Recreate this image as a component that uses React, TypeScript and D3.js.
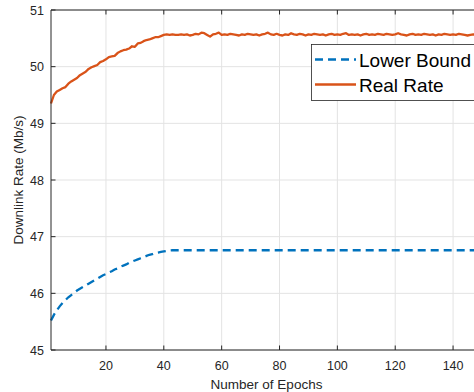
import React, { useMemo } from "react";
import * as d3 from "d3";

const epochs: number[] = d3.range(1, 151);

const lowerBound: number[] = [
    45.52, 45.62, 45.7, 45.77, 45.83, 45.88, 45.93, 45.97, 46.01, 46.05,
    46.08, 46.11, 46.14, 46.17, 46.2, 46.23, 46.26, 46.29, 46.32, 46.34,
    46.37, 46.39, 46.42, 46.44, 46.47, 46.49, 46.51, 46.54, 46.56, 46.58,
    46.6, 46.62, 46.64, 46.66, 46.68, 46.69, 46.71, 46.72, 46.73, 46.74,
    46.75, 46.755, 46.76, 46.76, 46.76, 46.76, 46.76, 46.76, 46.76, 46.76,
    46.76, 46.76, 46.76, 46.76, 46.76, 46.76, 46.76, 46.76, 46.76, 46.76,
    46.76, 46.76, 46.76, 46.76, 46.76, 46.76, 46.76, 46.76, 46.76, 46.76,
    46.76, 46.76, 46.76, 46.76, 46.76, 46.76, 46.76, 46.76, 46.76, 46.76,
    46.76, 46.76, 46.76, 46.76, 46.76, 46.76, 46.76, 46.76, 46.76, 46.76,
    46.76, 46.76, 46.76, 46.76, 46.76, 46.76, 46.76, 46.76, 46.76, 46.76,
    46.76, 46.76, 46.76, 46.76, 46.76, 46.76, 46.76, 46.76, 46.76, 46.76,
    46.76, 46.76, 46.76, 46.76, 46.76, 46.76, 46.76, 46.76, 46.76, 46.76,
    46.76, 46.76, 46.76, 46.76, 46.76, 46.76, 46.76, 46.76, 46.76, 46.76,
    46.76, 46.76, 46.76, 46.76, 46.76, 46.76, 46.76, 46.76, 46.76, 46.76,
    46.76, 46.76, 46.76, 46.76, 46.76, 46.76, 46.76, 46.76, 46.76, 46.76,
];

const realRate: number[] = [
    49.35, 49.5, 49.56, 49.59, 49.62, 49.64, 49.7, 49.74, 49.77, 49.8,
    49.85, 49.88, 49.91, 49.96, 49.99, 50.01, 50.03, 50.08, 50.1, 50.13,
    50.17, 50.18, 50.19, 50.24, 50.27, 50.29, 50.3, 50.32, 50.36, 50.35,
    50.41, 50.42, 50.45, 50.47, 50.48, 50.5, 50.52, 50.52, 50.54, 50.56,
    50.57, 50.56, 50.57, 50.56, 50.56, 50.57, 50.56, 50.57, 50.55, 50.56,
    50.58, 50.57, 50.6, 50.59, 50.56, 50.53, 50.57, 50.58, 50.6, 50.56,
    50.57, 50.56, 50.58, 50.57, 50.56, 50.55, 50.57, 50.56, 50.58, 50.57,
    50.56, 50.57, 50.55, 50.57, 50.58, 50.6, 50.57, 50.56, 50.58, 50.56,
    50.55, 50.57, 50.56, 50.59, 50.57, 50.56, 50.58, 50.57, 50.55, 50.57,
    50.56, 50.58, 50.57, 50.56, 50.57, 50.55, 50.57, 50.58, 50.56, 50.57,
    50.56, 50.58, 50.59, 50.56, 50.57, 50.56, 50.57, 50.55, 50.57, 50.58,
    50.56, 50.57, 50.56, 50.58, 50.57, 50.56, 50.58, 50.57, 50.56, 50.57,
    50.59, 50.57, 50.56, 50.55, 50.57, 50.58, 50.56, 50.57, 50.56, 50.58,
    50.57, 50.56, 50.57, 50.55, 50.57, 50.56, 50.58, 50.57, 50.56, 50.57,
    50.56, 50.58, 50.57, 50.56, 50.55, 50.56, 50.57, 50.56, 50.55, 50.54,
];

const xTicks: number[] = [20, 40, 60, 80, 100, 120, 140];
const yTicks: number[] = [45, 46, 47, 48, 49, 50, 51];
const seriesNames: string[] = ["Lower Bound", "Real Rate"];

const blue = "#0072BD";
const orange = "#D95319";
const axisColor = "#262626";
const gridColor = "#e3e3e3";
const font = "'Liberation Sans', Arial, Helvetica, sans-serif";

export default function App() {
    const width = 474;
    const height = 392;
    const marginLeft = 51;
    const plotRight = 482;
    const marginTop = 10;
    const plotBottom = 350;

    const x = useMemo(
        () => d3.scaleLinear([1, 150], [marginLeft, plotRight]),
        []
    );
    const y = useMemo(
        () => d3.scaleLinear([45, 51], [plotBottom, marginTop]),
        []
    );

    const line = d3
        .line<number>()
        .x((_, i) => x(epochs[i]))
        .y((d) => y(d));

    const tickLen = 4.5;

    return (
        <svg
            width={width}
            height={height}
            style={{ position: "absolute", top: 0, left: 0, background: "#fff" }}
            fontFamily={font}
        >
            <rect x={0} y={0} width={width} height={height} fill="#fff" />
            {/* grid */}
            <g stroke={gridColor} strokeWidth={1}>
                {xTicks.map((t) => (
                    <line key={`gx${t}`} x1={x(t)} x2={x(t)} y1={marginTop} y2={plotBottom} />
                ))}
                {yTicks.map((t) => (
                    <line key={`gy${t}`} x1={marginLeft} x2={plotRight} y1={y(t)} y2={y(t)} />
                ))}
            </g>
            {/* series */}
            <path
                d={line(lowerBound) || ""}
                fill="none"
                stroke={blue}
                strokeWidth={2.3}
                strokeDasharray="8,5"
            />
            <path
                d={line(realRate) || ""}
                fill="none"
                stroke={orange}
                strokeWidth={2.3}
                strokeLinejoin="round"
            />
            {/* axes box */}
            <g stroke={axisColor} strokeWidth={1} fill="none">
                <line x1={marginLeft} x2={plotRight} y1={marginTop} y2={marginTop} />
                <line x1={marginLeft} x2={plotRight} y1={plotBottom} y2={plotBottom} />
                <line x1={marginLeft} x2={marginLeft} y1={marginTop} y2={plotBottom} />
                {xTicks.map((t) => (
                    <g key={`tx${t}`}>
                        <line x1={x(t)} x2={x(t)} y1={plotBottom} y2={plotBottom - tickLen} />
                        <line x1={x(t)} x2={x(t)} y1={marginTop} y2={marginTop + tickLen} />
                    </g>
                ))}
                {yTicks.map((t) => (
                    <line key={`ty${t}`} x1={marginLeft} x2={marginLeft + tickLen} y1={y(t)} y2={y(t)} />
                ))}
            </g>
            {/* tick labels */}
            <g fill={axisColor} fontSize={12.5}>
                {xTicks.map((t) => (
                    <text key={`lx${t}`} x={x(t)} y={plotBottom + 20} textAnchor="middle">
                        {t}
                    </text>
                ))}
                {yTicks.map((t) => (
                    <text key={`ly${t}`} x={marginLeft - 7} y={y(t) + 4.5} textAnchor="end">
                        {t}
                    </text>
                ))}
            </g>
            <text
                x={(marginLeft + plotRight) / 2}
                y={389}
                textAnchor="middle"
                fontSize={13.5}
                fill={axisColor}
            >
                Number of Epochs
            </text>
            <text
                transform={`translate(23,${(marginTop + plotBottom) / 2}) rotate(-90)`}
                textAnchor="middle"
                fontSize={13.5}
                fill={axisColor}
            >
                Downlink Rate (Mb/s)
            </text>
            {/* legend */}
            <g>
                <rect
                    x={311.5}
                    y={44.5}
                    width={200}
                    height={56}
                    fill="#fff"
                    stroke={axisColor}
                    strokeWidth={0.8}
                />
                {seriesNames.map((name, i) => (
                    <g key={name} transform={`translate(0,${59.5 + i * 25})`}>
                        <line
                            x1={315}
                            x2={356}
                            y1={0}
                            y2={0}
                            stroke={i === 0 ? blue : orange}
                            strokeWidth={2.3}
                            strokeDasharray={i === 0 ? "8,5" : undefined}
                        />
                        <text x={359} y={7} fontSize={19} fill="#000">
                            {name}
                        </text>
                    </g>
                ))}
            </g>
        </svg>
    );
}
